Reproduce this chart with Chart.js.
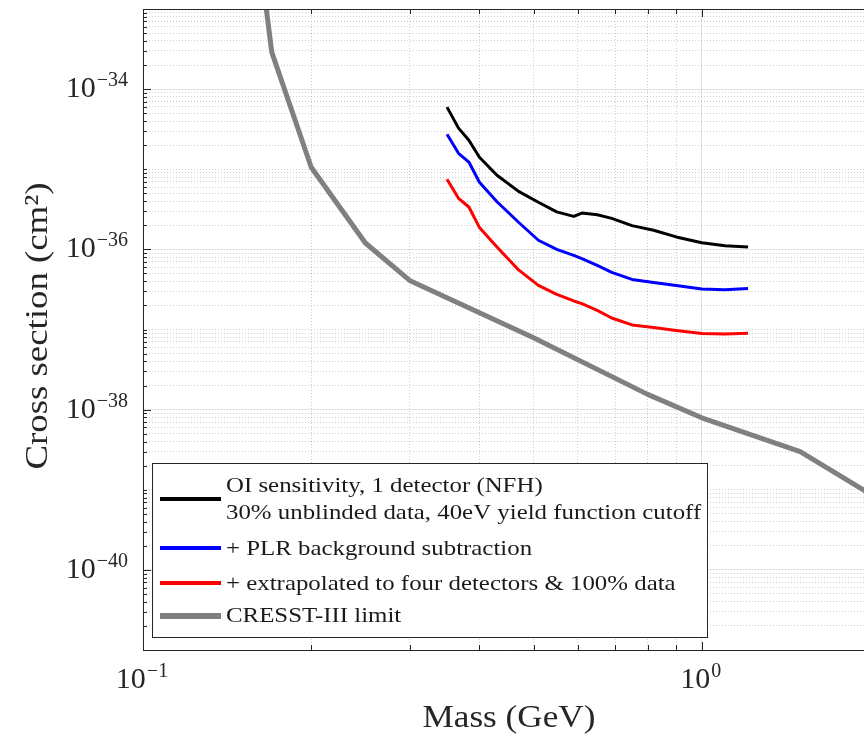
<!DOCTYPE html>
<html>
<head>
<meta charset="utf-8">
<script src="https://cdn.jsdelivr.net/npm/chart.js@4.4.1/dist/chart.umd.min.js"></script>
<style>
  html, body { margin: 0; padding: 0; background: #fff; overflow: hidden; }
</style>
</head>
<body>
<canvas id="chart" width="880" height="737"></canvas>
<script>
// masses (GeV) shared by the three OI sensitivity curves
const mass = [0.35, 0.367, 0.383, 0.40, 0.43, 0.47, 0.51, 0.55, 0.59, 0.61, 0.65, 0.69, 0.75, 0.82, 0.90, 1.00, 1.10, 1.21];
const oiOneDetector = [5.96e-35, 3.26e-35, 2.30e-35, 1.41e-35, 8.4e-36, 5.3e-36, 3.87e-36, 2.94e-36, 2.58e-36, 2.84e-36, 2.70e-36, 2.44e-36, 1.98e-36, 1.73e-36, 1.43e-36, 1.21e-36, 1.11e-36, 1.07e-36];
const oiPLR = [2.74e-35, 1.58e-35, 1.23e-35, 6.88e-36, 3.93e-36, 2.18e-36, 1.30e-36, 1.0e-36, 8.4e-37, 7.67e-37, 6.3e-37, 5.16e-37, 4.22e-37, 3.87e-37, 3.53e-37, 3.21e-37, 3.14e-37, 3.26e-37];
const oiExtrapolated = [7.5e-36, 4.34e-36, 3.38e-36, 1.88e-36, 1.07e-36, 5.54e-37, 3.55e-37, 2.74e-37, 2.27e-37, 2.10e-37, 1.73e-37, 1.39e-37, 1.14e-37, 1.06e-37, 9.7e-38, 8.9e-38, 8.8e-38, 9.0e-38];

// CRESST-III limit
const cresstMass = [0.165, 0.17, 0.2, 0.25, 0.3, 0.5, 0.8, 1.0, 1.5, 2.0];
const cresstLimit = [1.5e-33, 2.9e-34, 1.06e-35, 1.2e-36, 4.1e-37, 7.9e-38, 1.55e-38, 7.9e-39, 3.0e-39, 8.9e-40];

// axis ticks
const xTicks = [0.1, 0.2, 0.3, 0.4, 0.5, 0.6, 0.7, 0.8, 0.9, 1, 2];
const xLabelExps = [-1, 0];
const yLabelExps = [-34, -36, -38, -40];
const yDecades = [-41, -40, -39, -38, -37, -36, -35, -34, -33];

const legendLines = [
  ['OI sensitivity, 1 detector (NFH)', '30% unblinded data, 40eV yield function cutoff'],
  ['+ PLR background subtraction'],
  ['+ extrapolated to four detectors & 100% data'],
  ['CRESST-III limit']
];

const SERIF = '"Liberation Serif", "DejaVu Serif", serif';
const TEXT = '#262626';

function pts(xs, ys) {
  return xs.map((x, i) => ({ x: x, y: ys[i] }));
}

function isMajorX(v) {
  return Math.abs(Math.log10(v) - Math.round(Math.log10(v))) < 1e-9;
}
function isMajorY(v) {
  const e = Math.log10(v);
  return Math.abs(e - Math.round(e)) < 1e-6 && Math.round(e) % 2 === 0;
}

function yTickList() {
  const out = [];
  yDecades.forEach(d => {
    for (let m = 1; m <= 9; m++) {
      const v = m * Math.pow(10, d);
      if (d === -33 && m > 1) break;
      out.push({ value: v });
    }
  });
  return out;
}

// draws text stretched horizontally (CM fonts run wider than Times)
function drawText(ctx, str, x, y, size, align, sx) {
  ctx.save();
  ctx.font = size + 'px ' + SERIF;
  ctx.textAlign = align;
  ctx.textBaseline = 'alphabetic';
  ctx.translate(x, y);
  ctx.scale(sx, 1);
  ctx.fillText(str, 0, 0);
  ctx.restore();
}

function drawPow(ctx, exp, x, baseY, align) {
  const base = '10';
  const sup = (exp < 0 ? '\u2212' : '') + Math.abs(exp);
  ctx.font = '30px ' + SERIF;
  const wb = ctx.measureText(base).width;
  ctx.font = '20px ' + SERIF;
  const ws = ctx.measureText(sup).width;
  const total = wb + 1 + ws;
  const left = align === 'right' ? x - total : x - total / 2;
  ctx.textAlign = 'left';
  ctx.textBaseline = 'alphabetic';
  ctx.font = '30px ' + SERIF;
  ctx.fillText(base, left, baseY);
  ctx.font = '20px ' + SERIF;
  ctx.fillText(sup, left + wb + 1, baseY - 11);
}

const axesPlugin = {
  id: 'axesPlugin',
  afterDraw(chart) {
    const ctx = chart.ctx;
    const a = chart.chartArea;
    const xs = chart.scales.x;
    const ys = chart.scales.y;
    ctx.save();

    // box
    ctx.strokeStyle = TEXT;
    ctx.lineWidth = 1;
    ctx.beginPath();
    ctx.moveTo(a.left + 0.5, a.top + 0.5);
    ctx.lineTo(a.left + 0.5, a.bottom + 0.5);
    ctx.lineTo(a.right, a.bottom + 0.5);
    ctx.moveTo(a.left + 0.5, a.top + 0.5);
    ctx.lineTo(a.right, a.top + 0.5);
    ctx.stroke();

    // inward ticks
    ctx.beginPath();
    xs.ticks.forEach(t => {
      const px = Math.round(xs.getPixelForValue(t.value)) + 0.5;
      const len = isMajorX(t.value) ? 8 : 5;
      ctx.moveTo(px, a.bottom);
      ctx.lineTo(px, a.bottom - len);
      ctx.moveTo(px, a.top);
      ctx.lineTo(px, a.top + len);
    });
    ys.ticks.forEach(t => {
      const py = Math.round(ys.getPixelForValue(t.value)) + 0.5;
      const len = isMajorY(t.value) ? 8 : 4;
      ctx.moveTo(a.left, py);
      ctx.lineTo(a.left + len, py);
    });
    ctx.stroke();

    // tick labels
    ctx.fillStyle = TEXT;
    yLabelExps.forEach(e => {
      const py = ys.getPixelForValue(Math.pow(10, e));
      drawPow(ctx, e, a.left - 15, py + 8, 'right');
    });
    xLabelExps.forEach(e => {
      const px = xs.getPixelForValue(Math.pow(10, e));
      drawPow(ctx, e, px - 1, a.bottom + 38, 'center');
    });

    // axis titles
    drawText(ctx, 'Mass (GeV)', 509, 727, 32, 'center', 1.1);
    ctx.save();
    ctx.translate(47, 326);
    ctx.rotate(-Math.PI / 2);
    drawText(ctx, 'Cross section (cm\u00B2)', 0, 0, 32, 'center', 1.15);
    ctx.restore();

    // legend
    const bx = 152.5, by = 463.5, bw = 555, bh = 174;
    ctx.fillStyle = '#fff';
    ctx.fillRect(bx, by, bw, bh);
    ctx.strokeStyle = TEXT;
    ctx.lineWidth = 1;
    ctx.strokeRect(bx, by, bw, bh);
    const lineY = [499, 548, 583, 616];
    const textY = [[485, 512], [548], [583], [615]];
    chart.data.datasets.forEach((ds, i) => {
      ctx.strokeStyle = ds.borderColor;
      ctx.lineWidth = ds.borderWidth + 1;
      ctx.beginPath();
      ctx.moveTo(160, lineY[i]);
      ctx.lineTo(221, lineY[i]);
      ctx.stroke();
      ctx.fillStyle = '#1a1a1a';
      legendLines[i].forEach((s, k) => {
        drawText(ctx, s, 226, textY[i][k] + 7, 22, 'left', 1.13);
      });
    });
    ctx.restore();
  }
};

const ctx = document.getElementById('chart').getContext('2d');
new Chart(ctx, {
  type: 'line',
  data: {
    datasets: [
      {
        label: legendLines[0].join(' '),
        data: pts(mass, oiOneDetector),
        borderColor: '#000000',
        borderWidth: 3
      },
      {
        label: legendLines[1][0],
        data: pts(mass, oiPLR),
        borderColor: '#0000ff',
        borderWidth: 3
      },
      {
        label: legendLines[2][0],
        data: pts(mass, oiExtrapolated),
        borderColor: '#ff0000',
        borderWidth: 3
      },
      {
        label: legendLines[3][0],
        data: pts(cresstMass, cresstLimit),
        borderColor: '#808080',
        borderWidth: 5
      }
    ]
  },
  options: {
    responsive: false,
    animation: false,
    parsing: false,
    layout: { padding: { left: 143, top: 9, right: 10, bottom: 87 } },
    elements: {
      point: { radius: 0 },
      line: { tension: 0, borderJoinStyle: 'round', borderCapStyle: 'butt' }
    },
    plugins: {
      legend: { display: false },
      tooltip: { enabled: false }
    },
    scales: {
      x: {
        type: 'logarithmic',
        min: 0.1,
        max: 2,
        afterBuildTicks: s => { s.ticks = xTicks.map(v => ({ value: v })); },
        ticks: { display: false },
        grid: {
          drawTicks: false,
          color: c => (c.tick && isMajorX(c.tick.value)) ? 'rgba(38,38,38,0.13)' : 'rgba(38,38,38,0.22)'
        },
        border: {
          display: false,
          dash: c => (c.tick && !isMajorX(c.tick.value)) ? [1, 2] : []
        }
      },
      y: {
        type: 'logarithmic',
        min: 1e-41,
        max: 1e-33,
        afterBuildTicks: s => { s.ticks = yTickList(); },
        ticks: { display: false },
        grid: {
          drawTicks: false,
          color: c => (c.tick && isMajorY(c.tick.value)) ? 'rgba(38,38,38,0.13)' : 'rgba(38,38,38,0.22)'
        },
        border: {
          display: false,
          dash: c => (c.tick && !isMajorY(c.tick.value)) ? [1, 2] : []
        }
      }
    }
  },
  plugins: [axesPlugin]
});
</script>
</body>
</html>
